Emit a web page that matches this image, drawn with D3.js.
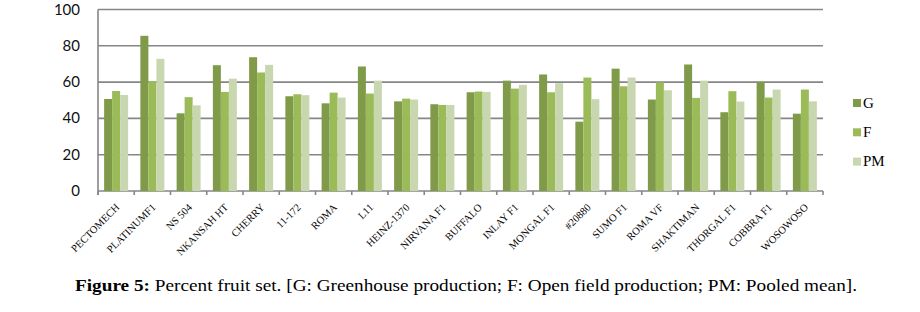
<!DOCTYPE html>
<html><head><meta charset="utf-8">
<style>
  body { margin: 0; background: #fff; }
  svg text { font-family: 'Liberation Serif', serif; }
</style>
<script src="https://cdnjs.cloudflare.com/ajax/libs/d3/7.8.5/d3.min.js"></script>
</head>
<body>
<div id="chart"></div>
<script>
// Percent fruit set per variety
const varieties = ["PECTOMECH", "PLATINUMF1", "NS 504", "NKANSAH HT", "CHERRY", "11-172", "ROMA", "L11",
  "HEINZ-1370", "NIRVANA F1", "BUFFALO", "INLAY F1", "MONGAL F1", "#20880", "SUMO F1", "ROMA VF",
  "SHAKTIMAN", "THORGAL F1", "COBBRA F1", "WOSOWOSO"];
const greenhouse = [50.7, 85.5, 42.8, 69.3, 73.7, 52.2, 48.3, 68.6, 49.4, 47.8, 54.4, 60.8, 64.2, 38.2, 67.4, 50.4, 69.7, 43.4, 60.1, 42.6];
const openField  = [55.1, 60.5, 51.7, 54.6, 65.3, 53.3, 54.2, 53.7, 50.9, 47.4, 54.8, 56.4, 54.4, 62.5, 57.7, 59.9, 51.3, 55.0, 51.5, 55.9];
const pooled     = [52.9, 72.8, 47.2, 61.9, 69.5, 52.8, 51.5, 60.8, 50.4, 47.4, 54.6, 58.5, 59.4, 50.6, 62.5, 55.5, 60.8, 49.3, 55.9, 49.4];
const seriesNames = ["G", "F", "PM"];
const yTicks = [0, 20, 40, 60, 80, 100];

const colors = { G: "#7f9a48", F: "#9bbb59", PM: "#c9d7b1" };
const seriesData = { G: greenhouse, F: openField, PM: pooled };

const width = 920, height = 312;
const margin = { left: 98, right: 97, top: 9.5, bottom: 121 };

const svg = d3.select("#chart").append("svg")
  .attr("width", width).attr("height", height);

const x = d3.scaleBand().domain(varieties)
  .range([margin.left, width - margin.right]).paddingInner(0).paddingOuter(0);
const y = d3.scaleLinear().domain([0, 100]).range([height - margin.bottom, margin.top]);

// gridlines
svg.append("g").selectAll("line").data(yTicks).enter().append("line")
  .attr("x1", margin.left).attr("x2", width - margin.right)
  .attr("y1", d => y(d)).attr("y2", d => y(d))
  .attr("stroke", "#868686").attr("stroke-width", 1.6);

// left axis line
svg.append("line")
  .attr("x1", margin.left).attr("x2", margin.left)
  .attr("y1", y(100)).attr("y2", y(0) + 4)
  .attr("stroke", "#868686").attr("stroke-width", 1.6);

// y tick labels
svg.append("g").selectAll("text").data(yTicks).enter().append("text")
  .attr("x", 80).attr("y", d => y(d) + 5)
  .attr("text-anchor", "end")
  .style("font-family", "Lato, 'Liberation Sans', sans-serif")
  .style("font-size", "15px").attr("fill", "#111")
  .text(d => d);

// x ticks
const tickPos = varieties.map(v => x(v)).concat([x.range()[1]]);
svg.append("g").selectAll("line").data(tickPos).enter().append("line")
  .attr("x1", d => d).attr("x2", d => d)
  .attr("y1", y(0)).attr("y2", y(0) + 4)
  .attr("stroke", "#868686").attr("stroke-width", 1.6);

// bars
const barW = 8;
const groupOffset = (x.bandwidth() - barW * 3) / 2;
seriesNames.forEach((s, i) => {
  svg.append("g").selectAll("rect").data(seriesData[s]).enter().append("rect")
    .attr("x", (d, j) => x(varieties[j]) + groupOffset + i * barW)
    .attr("y", d => y(d))
    .attr("width", barW)
    .attr("height", d => y(0) - y(d))
    .attr("fill", colors[s]);
});

// x labels
svg.append("g").selectAll("text").data(varieties).enter().append("text")
  .attr("transform", d => `translate(${x(d) + x.bandwidth() / 2 + 4},${y(0) + 17}) rotate(-45)`)
  .attr("text-anchor", "end")
  .style("font-size", "10.5px").attr("fill", "#000")
  .text(d => d);

// legend
const legend = svg.append("g").selectAll("g").data(seriesNames).enter().append("g")
  .attr("transform", (d, i) => `translate(853,${99 + i * 29.3})`);
legend.append("rect").attr("width", 8).attr("height", 8).attr("fill", d => colors[d]);
legend.append("text").attr("x", 10).attr("y", 8.5)
  .style("font-size", "15px").attr("fill", "#000").text(d => d);

// caption
const cap = svg.append("text").attr("x", 75).attr("y", 291)
  .attr("textLength", 782).attr("lengthAdjust", "spacingAndGlyphs")
  .style("font-size", "16.5px").attr("fill", "#000");
cap.append("tspan").style("font-weight", "bold").text("Figure 5:");
cap.append("tspan").text(" Percent fruit set. [G: Greenhouse production; F: Open field production; PM: Pooled mean].");
</script>
</body>
</html>
